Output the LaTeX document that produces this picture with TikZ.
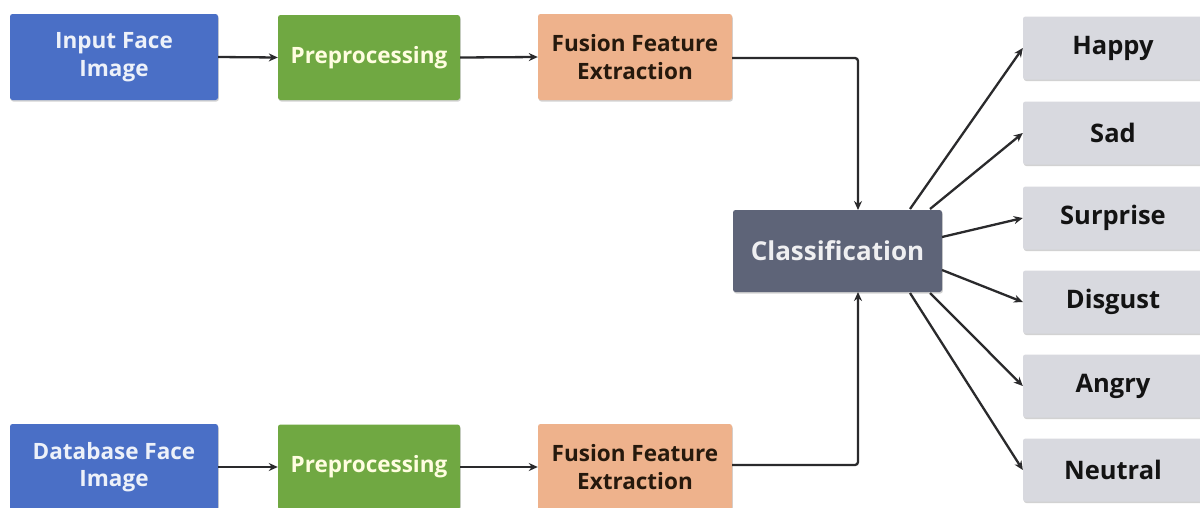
\documentclass[tikz,border=0pt]{standalone}
\usepackage{fontspec}
\setmainfont{Open Sans}
\usetikzlibrary{arrows.meta,shadows}
\definecolor{bblue}{HTML}{4A6FC6}
\definecolor{bgreen}{HTML}{70A842}
\definecolor{borange}{HTML}{EEB28C}
\definecolor{bgray}{HTML}{5E6478}
\definecolor{blight}{HTML}{D8D9DF}
\definecolor{lineC}{HTML}{2A2A2C}
\begin{document}
\begin{tikzpicture}[x=1pt,y=-1pt,
  base/.style={rounded corners=2.5pt,inner sep=0pt,align=center,font=\bfseries\fontsize{22.5}{27.5}\selectfont,
    drop shadow={shadow xshift=0.8pt,shadow yshift=-1.5pt,opacity=0.35}},
  bluebox/.style={base,fill=bblue,text=white!90!bblue,minimum width=208pt,minimum height=86pt},
  greenbox/.style={base,fill=bgreen,text=white!88!yellow,minimum width=182pt,minimum height=85pt},
  orangebox/.style={base,fill=borange,text=black!80!brown,minimum width=194pt,minimum height=86pt},
  clsbox/.style={base,fill=bgray,text=white!90!bgray,minimum width=209pt,minimum height=82pt,font=\bfseries\fontsize{26}{30}\selectfont},
  outbox/.style={base,fill=blight,text=black!85!gray,minimum width=180pt,minimum height=63pt,font=\bfseries\fontsize{25.5}{29}\selectfont},
  conn/.style={draw=lineC,line width=2.3pt,-{Stealth[length=9pt,width=8pt]}},
  conn2/.style={draw=lineC,line width=2.3pt,rounded corners=3pt,-{Stealth[length=9pt,width=8pt]}}]
\useasboundingbox (0,0) rectangle (1200,507);
\fill[white] (0,0) rectangle (1200,507);
% top row
\node[bluebox] (in) at (114,57) {Input Face\\Image};
\node[greenbox] (pre1) at (369,57.5) {Preprocessing};
\node[orangebox] (fe1) at (635,57) {Fusion Feature\\Extraction};
% bottom row
\node[bluebox] (db) at (114,467) {Database Face\\Image};
\node[greenbox] (pre2) at (369,467) {Preprocessing};
\node[orangebox] (fe2) at (635,467) {Fusion Feature\\Extraction};
% classification
\node[clsbox] (cls) at (837.5,251) {Classification};
% outputs
\node[outbox] (happy) at (1113,48) {Happy};
\node[outbox] (sad) at (1113,133) {Sad};
\node[outbox] (surprise) at (1113,218) {Surprise};
\node[outbox] (disgust) at (1113,302) {Disgust};
\node[outbox] (angry) at (1113,386) {Angry};
\node[outbox] (neutral) at (1113,470) {Neutral};
% connectors
\draw[conn] (in.east) -- (pre1.west);
\draw[conn] (pre1.east) -- (fe1.west);
\draw[conn] (db.east) -- (pre2.west);
\draw[conn] (pre2.east) -- (fe2.west);
\coordinate (cT) at (858,210);
\coordinate (cB) at (858,292);
\draw[conn2] (fe1.east |- 0,58) -| (cT);
\draw[conn2] (fe2.east |- 0,465) -| (cB);
\coordinate (s1) at (910,209);
\coordinate (s2) at (930,209);
\coordinate (s3) at (942,237);
\coordinate (s4) at (942,270);
\coordinate (s5) at (930,293);
\coordinate (s6) at (910,293);
\draw[conn] (s1) -- (happy.west);
\draw[conn] (s2) -- (sad.west);
\draw[conn] (s3) -- (surprise.west);
\draw[conn] (s4) -- (disgust.west);
\draw[conn] (s5) -- (angry.west);
\draw[conn] (s6) -- (neutral.west);
\end{tikzpicture}
\end{document}
